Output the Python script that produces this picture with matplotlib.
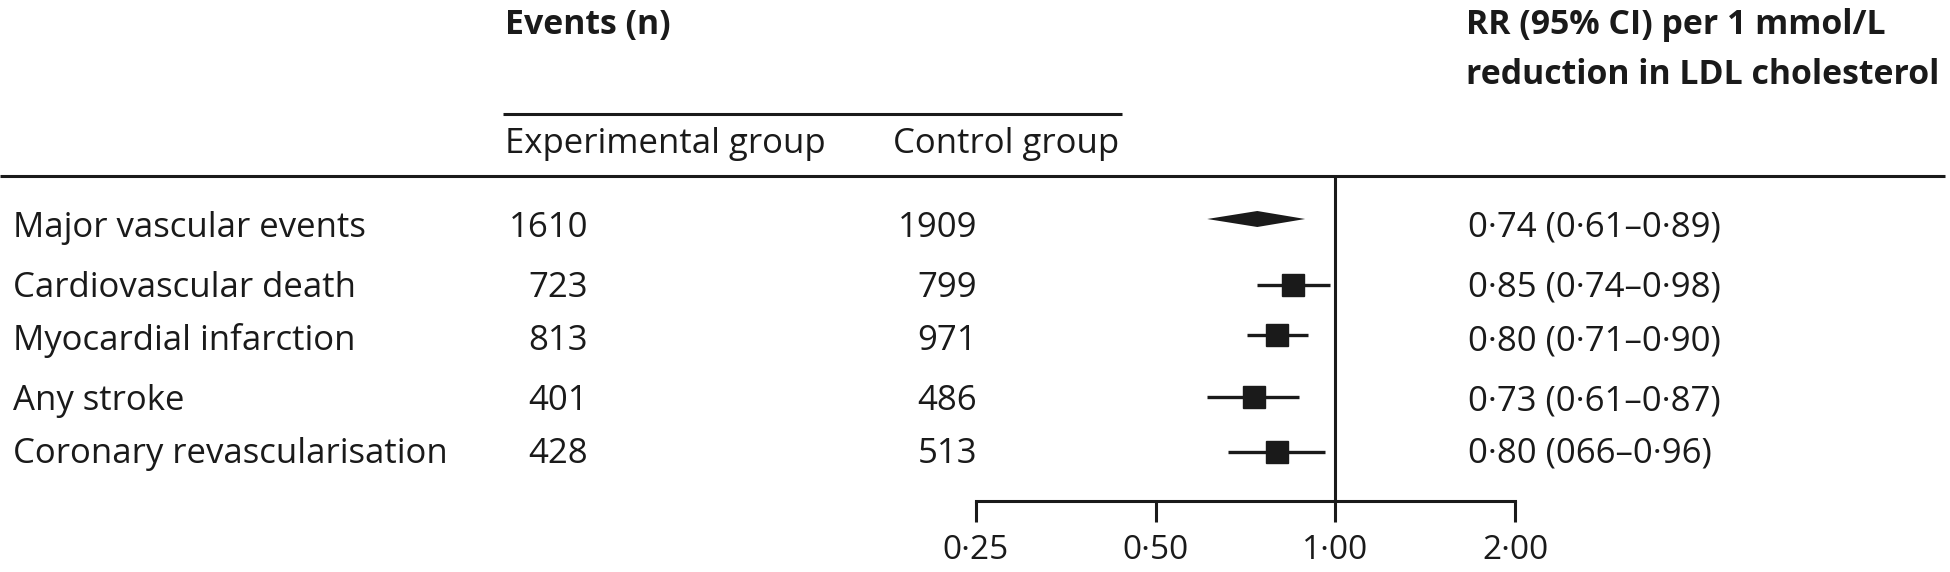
#imported libraries
import matplotlib
matplotlib.use('Agg')
import matplotlib.pyplot as plt
import numpy as np

plt.rcParams['font.family'] = ['Open Sans', 'DejaVu Sans']

#data
outcomes = ['Major vascular events', 'Cardiovascular death', 'Myocardial infarction',
            'Any stroke', 'Coronary revascularisation']
exp_events = [1610, 723, 813, 401, 428]
ctrl_events = [1909, 799, 971, 486, 513]
rr = [0.74, 0.85, 0.80, 0.73, 0.80]
rr_lo = [0.61, 0.74, 0.71, 0.61, 0.66]
rr_hi = [0.89, 0.98, 0.90, 0.87, 0.96]
rr_labels = ['0·74 (0·61–0·89)', '0·85 (0·74–0·98)', '0·80 (0·71–0·90)',
             '0·73 (0·61–0·87)', '0·80 (066–0·96)']
tick_vals = [0.25, 0.5, 1.0, 2.0]
tick_labels = ['0·25', '0·50', '1·00', '2·00']

ink = '#1a1a1a'
W, H = 1950, 572

#layout (pixel rows)
text_base = [237, 297, 350, 410, 463]
mark_y = [219, 285, 335, 397, 452]

fig = plt.figure(figsize=(W / 100, H / 100), dpi=100)

#background axes in pixel units for the table part
bg = fig.add_axes([0, 0, 1, 1])
bg.set_xlim(0, W)
bg.set_ylim(H, 0)
bg.axis('off')

fs = 25
fsb = 24.4
bg.text(505, 34, 'Events (n)', fontsize=fsb, fontweight='bold', color=ink, va='baseline')
bg.plot([503, 1122], [114, 114], color=ink, lw=2.2, solid_capstyle='butt')
bg.text(505, 153, 'Experimental group', fontsize=fs, color=ink, va='baseline')
bg.text(893, 153, 'Control group', fontsize=fs, color=ink, va='baseline')
bg.text(1466, 34, 'RR (95% CI) per 1 mmol/L', fontsize=fsb, fontweight='bold', color=ink, va='baseline')
bg.text(1466, 84, 'reduction in LDL cholesterol', fontsize=fsb, fontweight='bold', color=ink, va='baseline')
bg.plot([0, 1945], [176, 176], color=ink, lw=2.2, solid_capstyle='butt')

for i in range(len(outcomes)):
    yb = text_base[i]
    bg.text(13, yb, outcomes[i], fontsize=fs, color=ink, va='baseline')
    bg.text(588, yb, str(exp_events[i]), fontsize=fs, color=ink, va='baseline', ha='right')
    bg.text(977, yb, str(ctrl_events[i]), fontsize=fs, color=ink, va='baseline', ha='right')
    bg.text(1468, yb, rr_labels[i], fontsize=fs, color=ink, va='baseline')

#forest plot axes
x0, x1, y0, y1 = 976, 1515, 176, 501
ax = fig.add_axes([x0 / W, 1 - y1 / H, (x1 - x0) / W, (y1 - y0) / H])
ax.set_xscale('log', base=2)
ax.set_xlim(0.25, 2.0)
ax.set_ylim(y1, y0)
ax.patch.set_alpha(0)

ax.axvline(1.0, color=ink, lw=2.2)

#summary diamond for the first row
d = 8
ax.fill([rr_lo[0], rr[0], rr_hi[0], rr[0]],
        [mark_y[0], mark_y[0] - d, mark_y[0], mark_y[0] + d], color=ink, lw=0)

#squares with CI lines for the rest
for i in range(1, len(outcomes)):
    ax.plot([rr_lo[i], rr_hi[i]], [mark_y[i], mark_y[i]], color=ink, lw=2.4, solid_capstyle='butt')
    ax.plot(rr[i], mark_y[i], marker='s', markersize=15.8, color=ink, mec=ink)

for s in ['top', 'right', 'left']:
    ax.spines[s].set_visible(False)
ax.spines['bottom'].set_linewidth(2.2)
ax.spines['bottom'].set_color(ink)
ax.set_yticks([])
ax.set_xticks(tick_vals)
ax.set_xticklabels(tick_labels)
ax.xaxis.set_minor_locator(matplotlib.ticker.NullLocator())
ax.tick_params(axis='x', direction='out', length=15, width=2.2, color=ink,
               labelsize=24, labelcolor=ink, pad=9)

#saving the figure
plt.savefig('out.png', dpi=100)
